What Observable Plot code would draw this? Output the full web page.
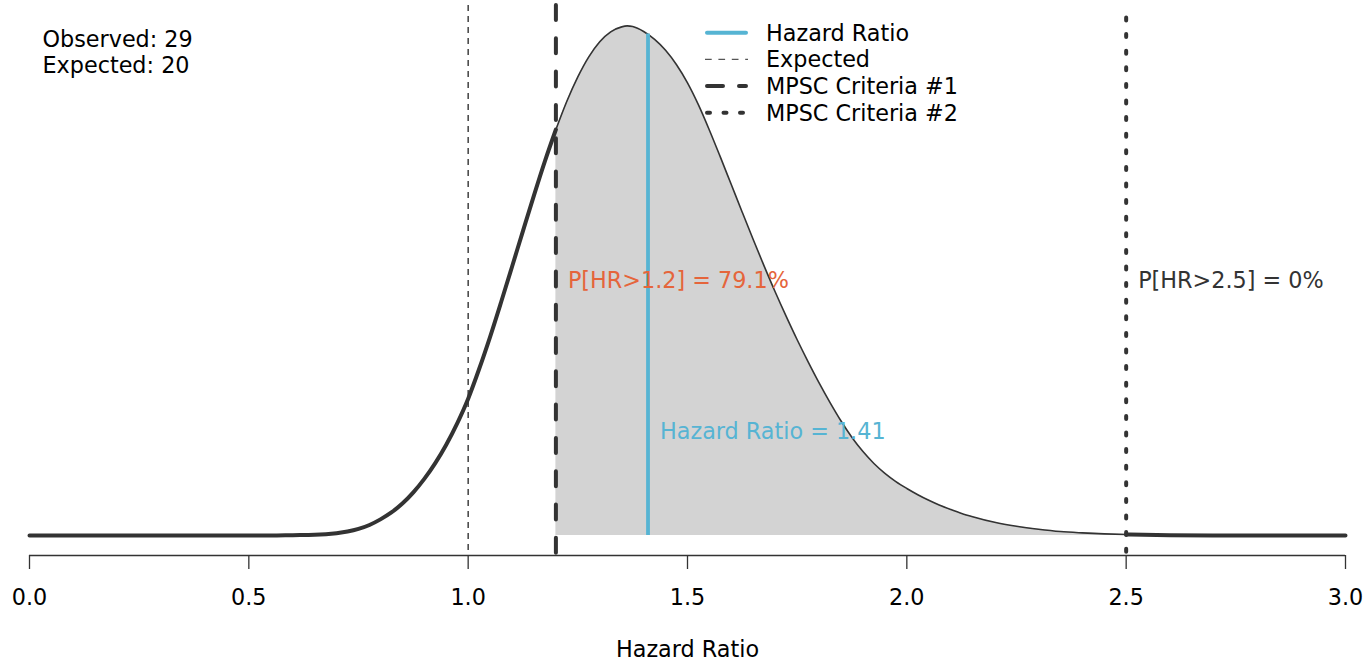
<!DOCTYPE html>
<html><head><meta charset="utf-8">
<script src="https://cdn.jsdelivr.net/npm/d3@7"></script>
<script src="https://cdn.jsdelivr.net/npm/@observablehq/plot@0.6"></script>
<style>
body{margin:0;background:#fff;}
#wrap{position:relative;width:1365px;height:662px;font-family:"DejaVu Sans",sans-serif;}
#legend{position:absolute;left:0;top:0;pointer-events:none;}
</style></head><body><div id="wrap"></div>
<script>
// ---- data ----
const hr = [0, 0.1, 0.2, 0.3, 0.4, 0.5, 0.55, 0.6, 0.65, 0.7, 0.725, 0.75, 0.775, 0.8, 0.825, 0.85, 0.875, 0.9, 0.925, 0.95, 0.975,
  1.0, 1.025, 1.05, 1.075, 1.1, 1.125, 1.15, 1.175, 1.2, 1.225, 1.25, 1.275, 1.3, 1.325, 1.35, 1.3625, 1.375, 1.4, 1.425, 1.45, 1.475,
  1.5, 1.525, 1.55, 1.575, 1.6, 1.625, 1.65, 1.675, 1.7, 1.725, 1.75, 1.775, 1.8, 1.825, 1.85, 1.875, 1.9, 1.925, 1.95, 1.975,
  2.0, 2.025, 2.05, 2.075, 2.1, 2.125, 2.15, 2.2, 2.25, 2.3, 2.35, 2.4, 2.45, 2.5, 2.6, 2.7, 2.8, 2.9, 3.0];
const density = [0, 0, 0, 0, 0, 0, 0, 0.001, 0.002, 0.007, 0.012, 0.020, 0.032, 0.049, 0.070, 0.097, 0.131, 0.172, 0.220, 0.276, 0.341,
  0.416, 0.506, 0.604, 0.709, 0.817, 0.926, 1.034, 1.138, 1.234, 1.320, 1.394, 1.455, 1.501, 1.531, 1.546, 1.549, 1.547, 1.532, 1.508, 1.475, 1.431,
  1.376, 1.309, 1.232, 1.150, 1.066, 0.982, 0.899, 0.818, 0.740, 0.666, 0.595, 0.528, 0.464, 0.404, 0.348, 0.298, 0.255, 0.219, 0.189, 0.164,
  0.143, 0.124, 0.107, 0.092, 0.079, 0.067, 0.057, 0.040, 0.028, 0.019, 0.012, 0.008, 0.005, 0.003, 0.001, 0, 0, 0, 0];
const observed = 29;
const expected = 20;
const expectedHR = 1.0;
const hrEstimate = 1.41;
const hrEstimateDensity = 1.524;
const criterion1 = 1.2;
const criterion2 = 2.5;
const prob1 = "79.1%";
const prob2 = "0%";
const xTicks = [0, 0.5, 1.0, 1.5, 2.0, 2.5, 3.0];
const legendLabels = ["Hazard Ratio", "Expected", "MPSC Criteria #1", "MPSC Criteria #2"];

// ---- styling ----
const W = 1365, H = 662;
const blue = "#56b4d3", orange = "#e5653b", dark = "#333333";
const yDomain = [-0.0608, 1.611];
const FS = 22.3;

const data = hr.map((x, i) => ({hr: x, d: density[i]}));
const left = data.filter(p => p.hr <= criterion1);
const mid = data.filter(p => p.hr >= criterion1 && p.hr <= criterion2);
const right = data.filter(p => p.hr >= criterion2);

const chart = Plot.plot({
  width: W, height: H,
  marginLeft: 29, marginRight: 20, marginTop: 5, marginBottom: 107,
  style: {fontFamily: "DejaVu Sans", fontSize: FS + "px", color: "#000", background: "#fff", overflow: "visible"},
  x: {domain: [0, 3]},
  y: {domain: yDomain, axis: null},
  marks: [
    Plot.areaY(mid, {x: "hr", y: "d", fill: "#d3d3d3", curve: "monotone-x"}),
    Plot.ruleX([expectedHR], {stroke: dark, strokeWidth: 1.4, strokeDasharray: "6,5"}),
    Plot.line(left, {x: "hr", y: "d", stroke: dark, strokeWidth: 4, curve: "monotone-x", strokeLinecap: "round"}),
    Plot.line(right, {x: "hr", y: "d", stroke: dark, strokeWidth: 4, curve: "monotone-x", strokeLinecap: "round"}),
    Plot.line(mid, {x: "hr", y: "d", stroke: dark, strokeWidth: 1.6, curve: "monotone-x"}),
    Plot.ruleX([criterion1], {stroke: dark, strokeWidth: 4, strokeDasharray: "15,18.3", strokeLinecap: "round"}),
    Plot.ruleX([criterion2], {stroke: dark, strokeWidth: 4, strokeDasharray: "3,13.6", strokeDashoffset: 4.1, strokeLinecap: "round"}),
    Plot.ruleX([hrEstimate], {y1: 0, y2: hrEstimateDensity, stroke: blue, strokeWidth: 3.8}),
    Plot.text([`P[HR>${criterion1}] = ${prob1}`], {text: d => d, x: criterion1, y: 0.775, dx: 12, textAnchor: "start", fill: orange, fontSize: FS}),
    Plot.text([`P[HR>${criterion2}] = ${prob2}`], {text: d => d, x: criterion2, y: 0.775, dx: 12, textAnchor: "start", fill: dark, fontSize: FS}),
    Plot.text([`Hazard Ratio = ${hrEstimate}`], {text: d => d, x: hrEstimate, y: 0.316, dx: 12, textAnchor: "start", fill: blue, fontSize: FS}),
    Plot.text([`Observed: ${observed}\nExpected: ${expected}`], {text: d => d, frameAnchor: "top-left", dx: 13, dy: 23, lineAnchor: "top", lineHeight: 1.18, textAnchor: "start", fill: "#000", fontSize: FS}),
    Plot.ruleY([yDomain[0]], {x1: 0, x2: 3, stroke: dark, strokeWidth: 1.3}),
    Plot.axisX({ticks: xTicks, tickFormat: d3.format(".1f"), tickSize: 14, tickPadding: 20, fontSize: FS, label: null, stroke: dark, strokeWidth: 1.3, fill: "#000"}),
    Plot.text(["Hazard Ratio"], {text: d => d, frameAnchor: "bottom", dy: 101, fontSize: FS, fill: "#000"})
  ]
});
document.getElementById("wrap").appendChild(chart);

// ---- legend overlay ----
const svgL = d3.select("#wrap").append("svg").attr("id", "legend").attr("width", W).attr("height", H)
  .style("font-family", "DejaVu Sans").style("font-size", FS + "px");
const legendStyles = [
  {stroke: blue, width: 4, dash: null, cap: "round"},
  {stroke: "#555", width: 1.4, dash: "6.7,6.7", cap: "butt"},
  {stroke: dark, width: 4, dash: "16,16", cap: "round"},
  {stroke: dark, width: 4, dash: "3,13.5", cap: "round"}
];
legendLabels.forEach((lab, i) => {
  const y = 32.7 + i * 26.7;
  const s = legendStyles[i];
  const x1 = s.cap === "round" ? 707 : 705, x2 = s.cap === "round" ? 746 : 748;
  const ln = svgL.append("line").attr("x1", x1).attr("x2", x2).attr("y1", y).attr("y2", y)
    .attr("stroke", s.stroke).attr("stroke-width", s.width).attr("stroke-linecap", s.cap);
  if (s.dash) ln.attr("stroke-dasharray", s.dash);
  svgL.append("text").attr("x", 766).attr("y", y).attr("dy", "0.35em").attr("fill", "#000").text(lab);
});
</script></body></html>
